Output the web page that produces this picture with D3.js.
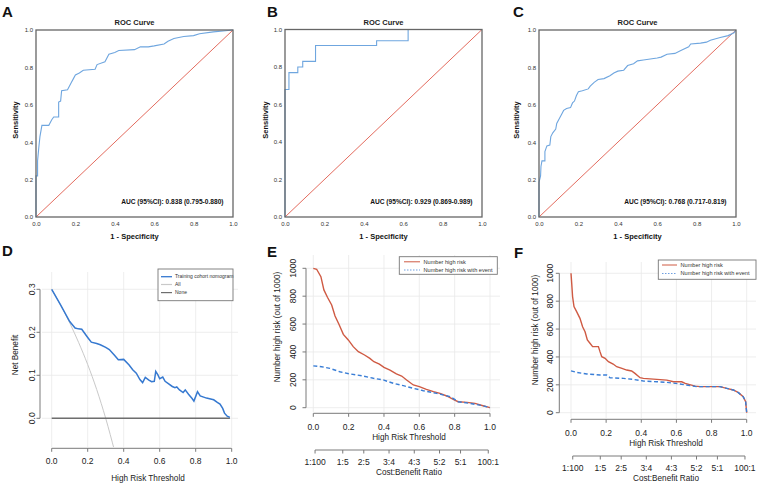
<!DOCTYPE html>
<html>
<head>
<meta charset="utf-8">
<script src="https://cdn.jsdelivr.net/npm/d3@7/dist/d3.min.js"></script>
<style>
  body { margin: 0; background: #fff; }
  svg { display: block; font-family: "Liberation Sans", Arial, sans-serif; }
</style>
</head>
<body>
<svg id="fig" width="760" height="487"></svg>
<script>
// ROC curves: [1 - specificity, sensitivity]
var rocTraining = [[0,0],[0,0.22],[0.008,0.22],[0.008,0.3],[0.015,0.38],[0.02,0.43],[0.03,0.49],[0.065,0.49],[0.07,0.5],
  [0.08,0.52],[0.09,0.535],[0.115,0.535],[0.115,0.615],[0.125,0.62],[0.13,0.675],[0.16,0.68],[0.17,0.7],[0.18,0.72],
  [0.19,0.74],[0.2,0.76],[0.22,0.77],[0.24,0.785],[0.3,0.79],[0.31,0.815],[0.35,0.83],[0.37,0.87],[0.4,0.88],[0.42,0.89],
  [0.5,0.895],[0.53,0.91],[0.57,0.91],[0.6,0.915],[0.65,0.925],[0.67,0.94],[0.7,0.955],[0.75,0.965],[0.8,0.97],
  [0.83,0.98],[0.9,0.99],[0.95,0.995],[1,1]];
var rocValidation = [[0,0],[0,0.68],[0.02,0.68],[0.02,0.77],[0.065,0.77],[0.065,0.8],[0.09,0.8],[0.09,0.83],[0.155,0.83],
  [0.155,0.915],[0.465,0.915],[0.465,0.94],[0.625,0.94],[0.625,1],[1,1]];
var rocExternal = [[0,0],[0,0.185],[0.008,0.22],[0.01,0.27],[0.015,0.3],[0.03,0.3],[0.03,0.35],[0.04,0.38],[0.055,0.385],
  [0.06,0.43],[0.07,0.45],[0.085,0.47],[0.09,0.5],[0.1,0.52],[0.115,0.55],[0.125,0.57],[0.14,0.58],[0.16,0.585],[0.17,0.61],
  [0.18,0.62],[0.19,0.65],[0.2,0.67],[0.22,0.675],[0.25,0.685],[0.26,0.7],[0.28,0.72],[0.3,0.735],[0.33,0.74],[0.36,0.755],
  [0.38,0.77],[0.4,0.78],[0.43,0.785],[0.45,0.81],[0.48,0.82],[0.5,0.835],[0.53,0.84],[0.6,0.85],[0.62,0.855],[0.65,0.87],
  [0.69,0.875],[0.72,0.89],[0.76,0.91],[0.77,0.925],[0.82,0.93],[0.85,0.935],[0.87,0.945],[0.92,0.96],[0.96,0.97],
  [0.99,0.985],[1,1]];
var aucLabels = ["AUC (95%CI): 0.838 (0.795-0.880)", "AUC (95%CI): 0.929 (0.869-0.989)", "AUC (95%CI): 0.768 (0.717-0.819)"];
var rocTicks = [0, 0.2, 0.4, 0.6, 0.8, 1.0];

// decision curve (D)
var dcaModel = [[0,0.3],[0.05,0.263],[0.1,0.225],[0.13,0.21],[0.148,0.208],[0.167,0.207],[0.2,0.188],[0.22,0.177],
  [0.25,0.174],[0.27,0.171],[0.3,0.165],[0.32,0.16],[0.35,0.146],[0.37,0.136],[0.4,0.137],[0.43,0.124],[0.45,0.113],
  [0.47,0.105],[0.49,0.09],[0.505,0.083],[0.52,0.095],[0.54,0.089],[0.555,0.085],[0.57,0.086],[0.578,0.109],[0.59,0.101],
  [0.6,0.092],[0.617,0.096],[0.63,0.086],[0.65,0.08],[0.67,0.074],[0.685,0.071],[0.695,0.073],[0.71,0.066],[0.73,0.06],
  [0.742,0.066],[0.76,0.056],[0.78,0.046],[0.79,0.04],[0.81,0.062],[0.825,0.052],[0.86,0.047],[0.9,0.043],[0.92,0.037],
  [0.935,0.033],[0.95,0.023],[0.96,0.012],[0.975,0.005],[0.99,0.002]];
var dcaAll = [[0,0.3],[0.05,0.263],[0.1,0.222],[0.15,0.176],[0.2,0.125],[0.25,0.067],[0.3,0],[0.35,-0.077]];
var dcaNone = [[0,0],[0.99,0]];
var dcaTicksX = [0, 0.2, 0.4, 0.6, 0.8, 1.0];
var dcaTicksY = [0, 0.1, 0.2, 0.3];

// clinical impact curves (E, F)
var impactHighE = [[0,1000],[0.019,993],[0.043,940],[0.06,845],[0.08,792],[0.104,737],[0.123,658],[0.147,593],[0.17,526],
  [0.198,486],[0.226,438],[0.255,402],[0.29,378],[0.32,354],[0.343,330],[0.374,313],[0.4,289],[0.434,270],[0.47,242],
  [0.5,227],[0.528,199],[0.566,163],[0.6,151],[0.64,132],[0.68,115],[0.717,103],[0.755,84],[0.8,55],[0.82,43],
  [0.87,38],[0.915,31],[0.96,14],[1,0]];
var impactEventE = [[0,300],[0.047,294],[0.094,282],[0.15,258],[0.208,242],[0.283,227],[0.34,211],[0.396,199],[0.453,175],
  [0.51,158],[0.566,139],[0.623,122],[0.698,103],[0.774,79],[0.8,60],[0.82,43],[0.887,31],[0.96,14],[1,0]];
var impactHighF = [[0,1000],[0.004,928],[0.009,833],[0.017,761],[0.032,725],[0.051,677],[0.066,617],[0.08,581],[0.093,522],
  [0.108,498],[0.123,474],[0.156,474],[0.165,438],[0.175,402],[0.194,390],[0.213,366],[0.24,349],[0.26,330],[0.29,318],
  [0.317,306],[0.345,299],[0.364,282],[0.393,251],[0.412,246],[0.488,239],[0.545,234],[0.583,222],[0.63,222],[0.65,210],
  [0.706,191],[0.734,187],[0.848,187],[0.886,175],[0.924,163],[0.953,144],[0.98,115],[0.994,79],[1,0]];
var impactEventF = [[0,300],[0.032,289],[0.09,278],[0.165,270],[0.203,270],[0.222,251],[0.298,246],[0.355,239],[0.412,227],
  [0.488,222],[0.545,218],[0.62,206],[0.677,194],[0.715,187],[0.848,187],[0.886,175],[0.924,163],[0.953,144],[0.98,115],
  [0.994,79],[1,0]];
var impactTicksX = [0, 0.2, 0.4, 0.6, 0.8, 1.0];
var impactTicksY = [0, 200, 400, 600, 800, 1000];
var costBenefitLabels = ["1:100", "1:5", "2:5", "3:4", "4:3", "5:2", "5:1", "100:1"];
var costBenefitAt = [0.0099, 0.1667, 0.2857, 0.4286, 0.5714, 0.7143, 0.8333, 0.9901];

var svg = d3.select("#fig");
var fmt1 = d3.format(".1f");
var axisGrey = "#7a7a7a";

function letter(txt, x, y) {
  svg.append("text").attr("x", x).attr("y", y)
    .attr("font-size", 15).attr("font-weight", "bold").attr("fill", "#111")
    .text(txt);
}

function rocPanel(cfg) {
  var x = d3.scaleLinear().domain([0, 1]).range([cfg.x0, cfg.x1]);
  var y = d3.scaleLinear().domain([0, 1]).range([cfg.y1, cfg.y0]);
  var g = svg.append("g");

  g.append("line")
    .attr("x1", x(0)).attr("y1", y(0)).attr("x2", x(1)).attr("y2", y(1))
    .attr("stroke", "#e05a4c").attr("stroke-width", 0.9);

  g.append("path").datum(cfg.data)
    .attr("fill", "none").attr("stroke", "#6fa6df").attr("stroke-width", 1.1)
    .attr("d", d3.line().x(function (d) { return x(d[0]); }).y(function (d) { return y(d[1]); }));

  g.append("rect")
    .attr("x", cfg.x0).attr("y", cfg.y0).attr("width", cfg.x1 - cfg.x0).attr("height", cfg.y1 - cfg.y0)
    .attr("fill", "none").attr("stroke", "#666").attr("stroke-width", 1.3);

  var ax = g.append("g").attr("transform", "translate(0," + cfg.y1 + ")")
    .call(d3.axisBottom(x).tickValues(rocTicks).tickFormat(fmt1).tickSize(0).tickPadding(5));
  var ay = g.append("g").attr("transform", "translate(" + cfg.x0 + ",0)")
    .call(d3.axisLeft(y).tickValues(rocTicks).tickFormat(fmt1).tickSize(0).tickPadding(3));
  [ax, ay].forEach(function (a) {
    a.select(".domain").remove();
    a.selectAll("text").attr("font-size", 6).attr("fill", "#333").attr("font-family", null);
  });

  g.append("text").attr("x", (cfg.x0 + cfg.x1) / 2).attr("y", 24.5)
    .attr("text-anchor", "middle").attr("font-size", 7.5).attr("font-weight", "bold").attr("fill", "#222")
    .text("ROC Curve");
  g.append("text").attr("x", (cfg.x0 + cfg.x1) / 2).attr("y", 238.5)
    .attr("text-anchor", "middle").attr("font-size", 7.5).attr("font-weight", "bold").attr("fill", "#111")
    .text("1 - Specificity");
  g.append("text").attr("transform", "translate(" + cfg.labelX + ",120) rotate(-90)")
    .attr("text-anchor", "middle").attr("dy", "0.35em").attr("font-size", 7.5).attr("font-weight", "bold").attr("fill", "#111")
    .text("Sensitivity");
  g.append("text").attr("x", cfg.x1 - 9.5).attr("y", 204.2)
    .attr("text-anchor", "end").attr("font-size", 6.6).attr("font-weight", "bold").attr("fill", "#111")
    .text(cfg.auc);
}

// R style axis: line only from first to last tick, ticks outward, optional rotated labels
function rAxis(g, scale, ticks, labels, orient, pos, labelOffset) {
  var a = g.append("g").attr("fill", "#222").attr("font-size", 8.5);
  var r0 = scale(ticks[0]), r1 = scale(ticks[ticks.length - 1]);
  if (orient === "bottom") {
    a.append("line").attr("x1", r0).attr("x2", r1).attr("y1", pos).attr("y2", pos)
      .attr("stroke", axisGrey).attr("stroke-width", 1);
    ticks.forEach(function (t, i) {
      a.append("line").attr("x1", scale(t)).attr("x2", scale(t)).attr("y1", pos).attr("y2", pos + 3.5)
        .attr("stroke", axisGrey).attr("stroke-width", 1);
      a.append("text").attr("x", scale(t)).attr("y", pos + labelOffset)
        .attr("text-anchor", "middle").text(labels[i]);
    });
  } else {
    a.append("line").attr("y1", r0).attr("y2", r1).attr("x1", pos).attr("x2", pos)
      .attr("stroke", axisGrey).attr("stroke-width", 1);
    ticks.forEach(function (t, i) {
      a.append("line").attr("y1", scale(t)).attr("y2", scale(t)).attr("x1", pos).attr("x2", pos - 3.5)
        .attr("stroke", axisGrey).attr("stroke-width", 1);
      a.append("text").attr("transform", "translate(" + (pos - labelOffset) + "," + scale(t) + ") rotate(-90)")
        .attr("text-anchor", "middle").text(labels[i]);
    });
  }
}

function grid(g, x, y, xt, yt, box) {
  var gg = g.append("g").attr("stroke", "#e9e9e9").attr("stroke-width", 0.8);
  xt.forEach(function (t) {
    gg.append("line").attr("x1", x(t)).attr("x2", x(t)).attr("y1", box[1]).attr("y2", box[3]);
  });
  yt.forEach(function (t) {
    gg.append("line").attr("y1", y(t)).attr("y2", y(t)).attr("x1", box[0]).attr("x2", box[2]);
  });
}

function legend(g, box, items, size) {
  g.append("rect").attr("x", box[0]).attr("y", box[1]).attr("width", box[2] - box[0]).attr("height", box[3] - box[1])
    .attr("fill", "#fff").attr("stroke", "#777").attr("stroke-width", 0.9);
  items.forEach(function (it) {
    g.append("line").attr("x1", it.lx0).attr("x2", it.lx1).attr("y1", it.y).attr("y2", it.y)
      .attr("stroke", it.color).attr("stroke-width", it.width || 1.2).attr("stroke-dasharray", it.dash || null);
    g.append("text").attr("x", it.tx).attr("y", it.y).attr("dy", "0.35em")
      .attr("font-size", size).attr("fill", "#333").text(it.label);
  });
}

// ---------- top row ----------
rocPanel({ x0: 36, x1: 233, y0: 30, y1: 217, data: rocTraining, auc: aucLabels[0], labelX: 15 });
rocPanel({ x0: 285, x1: 482, y0: 29.5, y1: 217, data: rocValidation, auc: aucLabels[1], labelX: 265 });
rocPanel({ x0: 539, x1: 736, y0: 30, y1: 217, data: rocExternal, auc: aucLabels[2], labelX: 516 });
letter("A", 2, 17);
letter("B", 267, 17);
letter("C", 513, 17);

// ---------- D: decision curve ----------
(function () {
  var g = svg.append("g");
  var x = d3.scaleLinear().domain([0, 1]).range([51.7, 231.7]);
  var y = d3.scaleLinear().domain([0, 0.3]).range([418.3, 289.3]);
  var box = [42, 272, 238, 447];
  grid(g, x, y, dcaTicksX, dcaTicksY, box);
  g.append("clipPath").attr("id", "clipD").append("rect")
    .attr("x", box[0]).attr("y", box[1]).attr("width", box[2] - box[0]).attr("height", box[3] - box[1]);
  var line = d3.line().x(function (d) { return x(d[0]); }).y(function (d) { return y(d[1]); });
  var plot = g.append("g").attr("clip-path", "url(#clipD)");
  plot.append("path").datum(dcaAll).attr("fill", "none").attr("stroke", "#c9c9c9").attr("stroke-width", 1)
    .attr("d", line.curve(d3.curveMonotoneX));
  line.curve(d3.curveLinear);
  plot.append("path").datum(dcaNone).attr("fill", "none").attr("stroke", "#6e6e6e").attr("stroke-width", 1.4).attr("d", line);
  plot.append("path").datum(dcaModel).attr("fill", "none").attr("stroke", "#3679d0").attr("stroke-width", 1.5).attr("d", line);

  rAxis(g, x, dcaTicksX, dcaTicksX.map(fmt1), "bottom", 448.3, 15.6);
  rAxis(g, y, dcaTicksY, dcaTicksY.map(fmt1), "left", 40, 5.2);
  g.append("text").attr("x", 148).attr("y", 481).attr("text-anchor", "middle").attr("font-size", 8.2).attr("fill", "#222")
    .text("High Risk Threshold");
  g.append("text").attr("transform", "translate(15,355) rotate(-90)").attr("dy", "0.35em")
    .attr("text-anchor", "middle").attr("font-size", 8.2).attr("fill", "#222").text("Net Benefit");
  legend(g, [158, 269, 233, 300.7], [
    { label: "Training cohort nomogram", color: "#3679d0", lx0: 161, lx1: 172, tx: 175, y: 276.7, width: 1.3 },
    { label: "All", color: "#c9c9c9", lx0: 161, lx1: 172, tx: 175, y: 284.5 },
    { label: "None", color: "#6e6e6e", lx0: 161, lx1: 172, tx: 175, y: 292.6 }
  ], 5);
  letter("D", 2, 256);
})();

// ---------- E, F: clinical impact curves ----------
function impactPanel(cfg) {
  var g = svg.append("g");
  var x = d3.scaleLinear().domain([0, 1]).range([cfg.xa, cfg.xb]);
  var y = d3.scaleLinear().domain([0, 1000]).range([cfg.ya, cfg.yb]);
  grid(g, x, y, impactTicksX, impactTicksY, cfg.box);
  var line = d3.line().x(function (d) { return x(d[0]); }).y(function (d) { return y(d[1]); });
  g.append("path").datum(cfg.high).attr("fill", "none").attr("stroke", "#cf5a43").attr("stroke-width", 1.4).attr("d", line);
  g.append("path").datum(cfg.event).attr("fill", "none").attr("stroke", "#3a7ed6").attr("stroke-width", 1.4)
    .attr("stroke-dasharray", "4,2.5").attr("d", line);

  rAxis(g, y, impactTicksY, impactTicksY.map(String), "left", cfg.axisY, cfg.yLabOff);
  rAxis(g, x, impactTicksX, impactTicksX.map(fmt1), "bottom", cfg.axisX, 16.3);
  rAxis(g, x, costBenefitAt, costBenefitLabels, "bottom", cfg.axisX2, 14.7);
  g.append("text").attr("x", cfg.titleX).attr("y", cfg.axisX + 27).attr("text-anchor", "middle")
    .attr("font-size", 8.2).attr("fill", "#222").text("High Risk Threshold");
  g.append("text").attr("x", cfg.titleX).attr("y", cfg.axisX2 + 24.6).attr("text-anchor", "middle")
    .attr("font-size", 8.2).attr("fill", "#222").text("Cost:Benefit Ratio");
  g.append("text").attr("transform", "translate(" + cfg.yTitleX + "," + cfg.yTitleY + ") rotate(-90)").attr("dy", "0.35em")
    .attr("text-anchor", "middle").attr("font-size", 8.2).attr("fill", "#222").text("Number high risk (out of 1000)");
  legend(g, cfg.legBox, [
    { label: "Number high risk", color: "#cf5a43", lx0: cfg.legL0, lx1: cfg.legL1, tx: cfg.legT, y: cfg.legY[0], width: 1 },
    { label: "Number high risk with event", color: "#6f9fe0", lx0: cfg.legL0, lx1: cfg.legL1, tx: cfg.legT, y: cfg.legY[1], width: 1, dash: "1.5,1.5" }
  ], 5.6);
}

impactPanel({
  xa: 313.3, xb: 490, ya: 407.7, yb: 268.3, box: [306, 255, 500, 412],
  high: impactHighE, event: impactEventE,
  axisY: 306, yLabOff: 10.2, axisX: 413.3, axisX2: 450, titleX: 409, yTitleX: 277, yTitleY: 327,
  legBox: [399.3, 256.7, 497.3, 274.3], legL0: 404, legL1: 420, legT: 423.5, legY: [261.8, 270]
});
letter("E", 267, 257);

impactPanel({
  xa: 571, xb: 746.7, ya: 412.7, yb: 273.3, box: [559, 262, 756, 418],
  high: impactHighF, event: impactEventF,
  axisY: 559.3, yLabOff: 6.6, axisX: 419.3, axisX2: 456, titleX: 666, yTitleX: 535, yTitleY: 330,
  legBox: [658.3, 260, 756, 279.3], legL0: 662, legL1: 677, legT: 680.5, legY: [265, 273.5]
});
letter("F", 514, 258);
</script>
</body>
</html>
